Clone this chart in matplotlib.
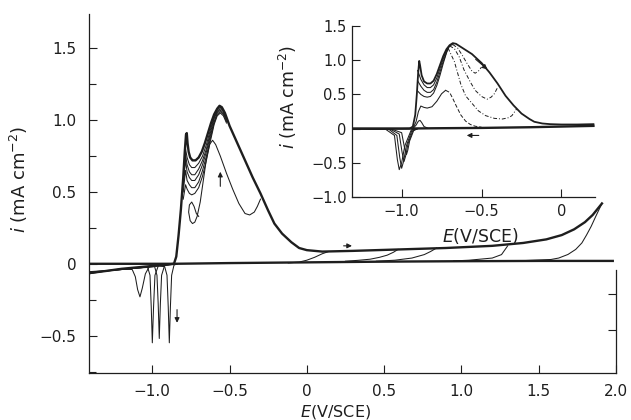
import numpy as np
import matplotlib
matplotlib.use("Agg")
import matplotlib.pyplot as plt
from matplotlib.ticker import MultipleLocator

plt.rcParams['font.family'] = ['DejaVu Sans']
plt.rcParams['mathtext.fontset'] = 'dejavusans'

INK = '#1e1e1e'

# ---------------- main plot data (E in V/SCE, i in mA cm-2) ----------------
# anodic envelope sweep, out to 1.9 V
env_E = [-1.41, -1.30, -1.20, -1.10, -1.00, -0.90, -0.86, -0.845, -0.83, -0.815, -0.80, -0.79,
         -0.782, -0.777, -0.772, -0.765, -0.755, -0.74, -0.72, -0.70, -0.68, -0.66, -0.64, -0.62,
         -0.60, -0.58, -0.565, -0.55, -0.53, -0.50, -0.45, -0.40, -0.35, -0.30, -0.25, -0.21,
         -0.16, -0.10, -0.05, 0.00, 0.10, 0.30, 0.60, 0.90, 1.20, 1.40, 1.55, 1.65, 1.73, 1.80,
         1.85, 1.88, 1.91]
env_i = [-0.065, -0.05, -0.035, -0.025, -0.015, -0.006, 0.0, 0.05, 0.2, 0.38, 0.6, 0.78,
         0.9, 0.91, 0.84, 0.78, 0.74, 0.72, 0.72, 0.74, 0.78, 0.84, 0.91, 0.98,
         1.04, 1.08, 1.10, 1.09, 1.05, 0.96, 0.84, 0.72, 0.60, 0.49, 0.37, 0.28,
         0.21, 0.15, 0.11, 0.095, 0.085, 0.09, 0.10, 0.11, 0.125, 0.145, 0.17, 0.20, 0.24, 0.29,
         0.34, 0.38, 0.42]

# cathodic return from 1.9 V
ret_E = [1.91, 1.87, 1.84, 1.81, 1.78, 1.74, 1.69, 1.63, 1.58, 1.40]
ret_i = [0.42, 0.33, 0.26, 0.20, 0.145, 0.10, 0.065, 0.04, 0.03, 0.022]

# common cathodic baseline
base_E = [-1.41, -1.00, -0.86, -0.50, 0.00, 0.50, 1.00, 1.50, 1.98]
base_i = [0.0, 0.0, 0.0, 0.005, 0.01, 0.015, 0.018, 0.02, 0.02]

# reversals at lower anodic limits
br1_E = [0.14, 0.10, 0.05, 0.00, -0.05, -0.12]
br1_i = [0.085, 0.07, 0.045, 0.025, 0.012, 0.006]
br2_E = [0.59, 0.56, 0.52, 0.47, 0.41, 0.33, 0.25]
br2_i = [0.10, 0.08, 0.06, 0.045, 0.032, 0.024, 0.018]
br3_E = [0.84, 0.80, 0.76, 0.68, 0.57, 0.45]
br3_i = [0.11, 0.085, 0.064, 0.04, 0.025, 0.018]
br4_E = [1.30, 1.26, 1.20, 1.05, 0.95]
br4_i = [0.125, 0.064, 0.04, 0.025, 0.02]

# repeated anodic cycles
cyc_E = [-0.80, -0.785, -0.775, -0.76, -0.745, -0.725, -0.70, -0.675, -0.65, -0.625, -0.60,
         -0.58, -0.56, -0.54, -0.52]
cyc_a_i = [0.55, 0.80, 0.74, 0.69, 0.67, 0.67, 0.70, 0.75, 0.83, 0.93, 1.02, 1.07, 1.09, 1.07, 1.02]
cyc_b_i = [0.55, 0.76, 0.69, 0.64, 0.62, 0.62, 0.66, 0.72, 0.80, 0.91, 1.01, 1.06, 1.08, 1.06, 1.01]
cyc_c_i = [0.55, 0.72, 0.64, 0.60, 0.58, 0.58, 0.62, 0.69, 0.78, 0.89, 0.99, 1.05, 1.07, 1.05, 1.00]
cyc_d_i = [0.50, 0.65, 0.58, 0.55, 0.53, 0.53, 0.57, 0.65, 0.75, 0.87, 0.98, 1.04, 1.06, 1.04, 0.99]
cyc_e_i = [0.45, 0.55, 0.52, 0.49, 0.48, 0.49, 0.53, 0.61, 0.72, 0.85, 0.97, 1.03, 1.05, 1.03, 0.98]

# reversal at -0.3 V with reactivation peak and small loop
rev_E = [-0.30, -0.32, -0.34, -0.37, -0.40, -0.44, -0.48, -0.52, -0.56, -0.59, -0.61, -0.63,
         -0.65, -0.67, -0.69, -0.71, -0.725, -0.74, -0.755, -0.765, -0.76, -0.745, -0.73,
         -0.715, -0.70]
rev_i = [0.45, 0.40, 0.36, 0.34, 0.35, 0.42, 0.52, 0.63, 0.75, 0.83, 0.86, 0.83,
         0.73, 0.58, 0.43, 0.33, 0.29, 0.28, 0.30, 0.36, 0.41, 0.43, 0.40, 0.35, 0.33]

# cathodic reduction peaks
cat1_E = [-0.84, -0.86, -0.875, -0.883, -0.89, -0.897, -0.905, -0.92, -0.96, -1.10, -1.25, -1.41]
cat1_i = [0.0, -0.01, -0.08, -0.30, -0.55, -0.30, -0.08, -0.02, -0.015, -0.03, -0.045, -0.06]
cat2_E = [-0.84, -0.92, -0.94, -0.948, -0.955, -0.962, -0.97, -0.985, -1.05, -1.20, -1.41]
cat2_i = [0.0, -0.01, -0.08, -0.28, -0.52, -0.28, -0.08, -0.02, -0.025, -0.04, -0.055]
cat3_E = [-0.84, -0.96, -0.983, -0.992, -1.0, -1.007, -1.015, -1.03, -1.10, -1.25, -1.41]
cat3_i = [0.0, -0.01, -0.08, -0.30, -0.55, -0.30, -0.08, -0.025, -0.03, -0.045, -0.065]
cat4_E = [-0.84, -0.95, -1.02, -1.045, -1.065, -1.08, -1.095, -1.11, -1.13, -1.20, -1.30, -1.41]
cat4_i = [0.0, -0.01, -0.02, -0.07, -0.17, -0.23, -0.18, -0.09, -0.04, -0.035, -0.05, -0.07]

# ---------------- inset data ----------------
in_base_E = [-1.31, -1.00, -0.80, -0.50, -0.20, 0.00, 0.20]
in_base_i = [0.0, 0.0, 0.005, 0.01, 0.02, 0.03, 0.04]

in_env_E = [-1.31, -1.10, -0.95, -0.93, -0.915, -0.905, -0.897, -0.89, -0.885, -0.875, -0.86,
            -0.84, -0.82, -0.80, -0.78, -0.76, -0.74, -0.72, -0.70, -0.68, -0.66, -0.62, -0.56,
            -0.50, -0.45, -0.40, -0.35, -0.30, -0.25, -0.20, -0.17, -0.12, -0.07, 0.00, 0.10, 0.20]
in_env_i = [0.0, 0.0, 0.0, 0.03, 0.2, 0.5, 0.8, 0.99, 0.93, 0.78, 0.69,
            0.66, 0.66, 0.70, 0.80, 0.93, 1.06, 1.16, 1.22, 1.25, 1.24, 1.18, 1.09,
            0.96, 0.82, 0.66, 0.48, 0.34, 0.22, 0.14, 0.10, 0.075, 0.065, 0.06, 0.06, 0.065]

in_d_E = [-0.90, -0.88, -0.86, -0.84, -0.82, -0.80, -0.78, -0.76, -0.74, -0.72, -0.70, -0.68,
          -0.65, -0.62, -0.59, -0.56, -0.54, -0.52, -0.50]
in_d_i = [0.85, 0.72, 0.64, 0.60, 0.60, 0.64, 0.74, 0.88, 1.02, 1.14, 1.21, 1.23,
          1.18, 1.07, 0.95, 0.84, 0.81, 0.84, 0.90]
in_a_E = [-0.90, -0.88, -0.86, -0.84, -0.82, -0.80, -0.78, -0.76, -0.74, -0.72, -0.70, -0.67,
          -0.64, -0.61, -0.57, -0.54, -0.50, -0.465, -0.44, -0.42, -0.40]
in_a_i = [0.70, 0.62, 0.56, 0.53, 0.53, 0.57, 0.68, 0.83, 0.98, 1.11, 1.21, 1.17,
          1.05, 0.86, 0.68, 0.56, 0.47, 0.43, 0.46, 0.51, 0.60]
in_b_E = [-0.90, -0.88, -0.86, -0.84, -0.82, -0.80, -0.78, -0.76, -0.74, -0.71, -0.67, -0.63,
          -0.60, -0.56, -0.52, -0.475, -0.42, -0.37, -0.33, -0.31, -0.28]
in_b_i = [0.55, 0.50, 0.47, 0.46, 0.47, 0.52, 0.63, 0.78, 0.95, 1.18, 0.98, 0.65,
          0.48, 0.37, 0.26, 0.19, 0.15, 0.14, 0.16, 0.19, 0.29]
in_c_E = [-0.93, -0.91, -0.895, -0.88, -0.86, -0.84, -0.81, -0.78, -0.75, -0.725, -0.70,
          -0.68, -0.66, -0.63, -0.60, -0.57, -0.54, -0.50]
in_c_i = [0.0, 0.10, 0.25, 0.33, 0.31, 0.30, 0.32, 0.40, 0.51, 0.56, 0.53,
          0.44, 0.34, 0.20, 0.11, 0.06, 0.035, 0.02]
in_bump_E = [-0.93, -0.91, -0.895, -0.885, -0.875, -0.86, -0.84]
in_bump_i = [0.0, 0.05, 0.11, 0.12, 0.09, 0.03, 0.01]

in_cat1_E = [-0.90, -0.94, -0.98, -1.00, -1.015, -1.027, -1.045, -1.10, -1.31]
in_cat1_i = [0.0, -0.02, -0.25, -0.50, -0.60, -0.45, -0.10, -0.01, 0.0]
in_cat2_E = [-0.90, -0.935, -0.97, -0.988, -1.0, -1.012, -1.03, -1.08, -1.31]
in_cat2_i = [0.0, -0.02, -0.25, -0.48, -0.58, -0.42, -0.10, -0.01, 0.0]
in_cat3_E = [-0.90, -0.93, -0.96, -0.975, -0.985, -0.997, -1.015, -1.07, -1.31]
in_cat3_i = [0.0, -0.03, -0.22, -0.40, -0.48, -0.35, -0.08, -0.01, 0.0]
in_cat4_E = [-0.90, -0.925, -0.95, -0.962, -0.97, -0.982, -1.0, -1.06, -1.31]
in_cat4_i = [0.0, -0.03, -0.18, -0.32, -0.38, -0.28, -0.06, -0.01, 0.0]

# ---------------- figure ----------------
fig = plt.figure(figsize=(6.31, 4.20), dpi=100)
ax = fig.add_axes([0.141, 0.112, 0.835, 0.855])

thin = dict(color=INK, lw=0.75)
thick = dict(color=INK, lw=1.7)

ax.plot(base_E, base_i, **thick)
ax.plot(env_E, env_i, **thick)
ax.plot(ret_E, ret_i, **thin)
for bE, bi in [(br1_E, br1_i), (br2_E, br2_i), (br3_E, br3_i), (br4_E, br4_i)]:
    ax.plot(bE, bi, **thin)
for ci in [cyc_a_i, cyc_b_i, cyc_c_i, cyc_d_i, cyc_e_i]:
    ax.plot(cyc_E, ci, **thin)
ax.plot(rev_E, rev_i, **thin)
for cE, ci in [(cat1_E, cat1_i), (cat2_E, cat2_i), (cat3_E, cat3_i), (cat4_E, cat4_i)]:
    ax.plot(cE, ci, **thin)

arrow = dict(arrowstyle='-|>', color=INK, lw=0.8, mutation_scale=7)
ax.annotate('', xy=(0.31, 0.125), xytext=(0.22, 0.125), arrowprops=arrow)
ax.annotate('', xy=(-0.56, 0.66), xytext=(-0.56, 0.52), arrowprops=arrow)
ax.annotate('', xy=(-0.84, -0.43), xytext=(-0.84, -0.30), arrowprops=arrow)

ax.set_xlim(-1.41, 2.0)
ax.set_ylim(-0.76, 1.74)
ax.yaxis.set_minor_locator(MultipleLocator(0.25))
ax.set_xticks([-1.0, -0.5, 0, 0.5, 1.0, 1.5, 2.0])
ax.set_xticklabels(['\u22121.0', '\u22120.5', '0', '0.5', '1.0', '1.5', '2.0'])
ax.set_yticks([-0.5, 0, 0.5, 1.0, 1.5])
ax.set_yticklabels(['\u22120.5', '0', '0.5', '1.0', '1.5'])
ax.tick_params(which='both', direction='in', colors=INK, labelsize=11)
ax.tick_params(which='major', length=6, width=0.8)
ax.tick_params(which='minor', length=5, width=0.8)
ax.tick_params(axis='y', pad=9)
ax.tick_params(axis='x', pad=8)
ax.spines['top'].set_visible(False)
ax.spines['right'].set_visible(False)
for s in ['left', 'bottom']:
    ax.spines[s].set_color(INK)
    ax.spines[s].set_linewidth(0.9)

sec = ax.secondary_yaxis('right')
sec.set_yticks([-0.46, -0.21])
sec.set_yticklabels([])
sec.tick_params(direction='in', length=6, width=0.8, colors=INK)
sec.spines['right'].set_bounds(-0.76, -0.04)
sec.spines['right'].set_color(INK)
sec.spines['right'].set_linewidth(0.9)

ax.set_xlabel(r'$E$(V/SCE)', fontsize=11.5, color=INK)
ax.xaxis.set_label_coords(0.467, -0.084)
ax.set_ylabel(r'$i$ (mA cm$^{-2}$)', fontsize=13, color=INK)
ax.yaxis.set_label_coords(-0.112, 0.54)

# ---------------- inset ----------------
ins = fig.add_axes([0.558, 0.531, 0.385, 0.407])
ins.patch.set_alpha(0)
ins.plot(in_base_E, in_base_i, **thick)
ins.plot(in_env_E, in_env_i, color=INK, lw=1.3)
dashdot = dict(color=INK, lw=0.7, linestyle=(0, (4, 2, 1, 2)))
for cE, ci in [(in_d_E, in_d_i), (in_a_E, in_a_i), (in_b_E, in_b_i)]:
    k = int(np.argmax(ci))
    ins.plot(cE[:k + 1], ci[:k + 1], **thin)
    ins.plot(cE[k:], ci[k:], **dashdot)
k = int(np.argmax(in_c_i))
ins.plot(in_c_E[:k + 1], in_c_i[:k + 1], **thin)
ins.plot(in_c_E[k:], in_c_i[k:], color=INK, lw=0.7, linestyle=(0, (4, 2)))
ins.plot(in_bump_E, in_bump_i, **thin)
for cE, ci in [(in_cat1_E, in_cat1_i), (in_cat2_E, in_cat2_i), (in_cat3_E, in_cat3_i),
               (in_cat4_E, in_cat4_i)]:
    ins.plot(cE, ci, **thin)

ins.annotate('', xy=(-0.45, 0.84), xytext=(-0.55, 1.04), arrowprops=arrow)
ins.annotate('', xy=(-0.61, -0.10), xytext=(-0.50, -0.10), arrowprops=arrow)

ins.set_xlim(-1.31, 0.21)
ins.set_ylim(-1.0, 1.5)
ins.set_xticks([-1.0, -0.5, 0])
ins.set_xticklabels(['\u22121.0', '\u22120.5', '0'])
ins.set_yticks([-1.0, -0.5, 0, 0.5, 1.0, 1.5])
ins.set_yticklabels(['\u22121.0', '\u22120.5', '0', '0.5', '1.0', '1.5'])
ins.tick_params(direction='in', length=6, width=0.8, colors=INK, labelsize=10.5)
ins.tick_params(axis='y', pad=4)
ins.tick_params(axis='x', pad=5)
ins.spines['top'].set_visible(False)
ins.spines['right'].set_visible(False)
for s in ['left', 'bottom']:
    ins.spines[s].set_color(INK)
    ins.spines[s].set_linewidth(0.9)
ins.set_xlabel(r'$E$(V/SCE)', fontsize=12.5, color=INK)
ins.xaxis.set_label_coords(0.53, -0.17)
ins.set_ylabel(r'$i$ (mA cm$^{-2}$)', fontsize=12.5, color=INK)
ins.yaxis.set_label_coords(-0.22, 0.585)

fig.savefig('out.png', dpi=100)
